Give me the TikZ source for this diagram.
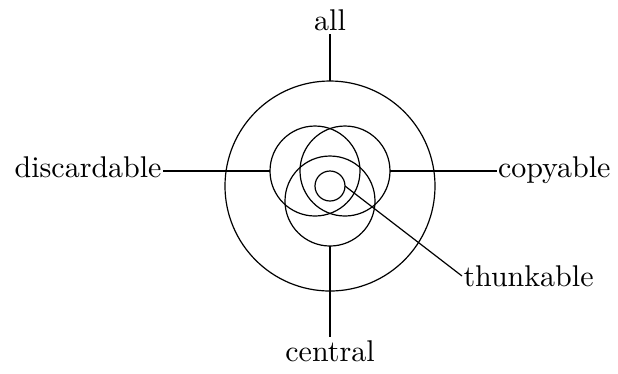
\documentclass[tikz,border=0pt]{standalone}
\usetikzlibrary{positioning}

\begin{document}
\begin{tikzpicture}[x=5pt, y=5pt,
  ring/.style={draw, circle, inner sep=0pt, outer sep=0pt, minimum size=#1},
  lbl/.style={inner xsep=0.3pt, inner ysep=1pt}]
\useasboundingbox (-22,-12.47) rectangle (19.2,12.4);
% rings: radius 7 (all), 3 (the three classes), 1 (thunkable)
\node[ring=70pt] (all) at (0,0) {};
\node[ring=30pt] (disc) at (-1,1) {};
\node[ring=30pt] (copy) at (1,1) {};
\node[ring=30pt] (cent) at (0,-1) {};
\node[ring=10pt] (thunk) at (0,0) {};
% labels and their leaders
\node[lbl, anchor=south] (lall) at (0,10.13) {all};
\node[lbl, anchor=mid east] (ldisc) at (-11.13,1) {discardable};
\node[lbl, anchor=mid west] (lcopy) at (11.1,1) {copyable};
\node[lbl, anchor=north] (lcent) at (0,-10.07) {central};
\node[lbl, anchor=west] (lthunk) at (8.8,-6.0) {thunkable};
\draw (all.north) -- (lall.south);
\draw (disc.west) -- (ldisc.mid east);
\draw (copy.east) -- (lcopy.mid west);
\draw (cent.south) -- (lcent.north);
\draw (thunk.east) -- (lthunk.west);
\end{tikzpicture}
\end{document}
